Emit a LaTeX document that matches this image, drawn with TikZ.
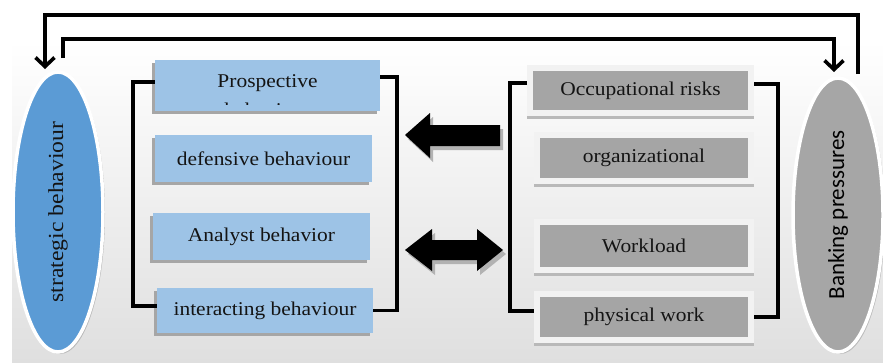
\documentclass[tikz,border=0pt]{standalone}
\usepackage{fontspec}
\usepackage{graphicx}
\setmainfont{Liberation Serif}[FakeStretch=1.1]
\newfontfamily\bpfont{Carlito}
\usetikzlibrary{shapes.geometric,arrows.meta,shadows}
\definecolor{blueE}{HTML}{5B9BD5}
\definecolor{blueB}{HTML}{9DC3E6}
\definecolor{grayE}{HTML}{A6A6A6}
\definecolor{grayB}{HTML}{A5A5A5}
\definecolor{txt}{HTML}{141414}
\newcommand{\bxfont}{\fontsize{19.5}{22}\selectfont}
\newsavebox{\bpbox}
\begin{document}
\sbox{\bpbox}{\bpfont\fontsize{23}{26}\selectfont Banking pressures}%
\begin{tikzpicture}[x=1pt,y=-1pt,
  lbox/.style={fill=blueB, inner sep=0pt, text=txt, font=\bxfont,
    drop shadow={shadow xshift=-3pt,shadow yshift=-3pt,fill=gray!70,opacity=1}},
  rbox/.style={fill=grayB, draw=white!95!black, line width=6pt, inner sep=0pt, text=txt, font=\bxfont},
  ell/.style={ellipse, draw=white, line width=3.5pt, inner sep=0pt, text=txt,
    drop shadow={shadow xshift=2pt,shadow yshift=-2pt,fill=gray!55,opacity=1}},
  conn/.style={draw=black, line width=3.6pt},
  tip/.style={-{Straight Barb[length=9pt,width=19pt]}},
  blk/.style={fill=black},
  blkshadow/.style={fill=gray!60}
]
\useasboundingbox (0,0) rectangle (883,362);
\fill[white] (0,0) rectangle (883,362);
\shade[top color=white, bottom color=gray!25] (12,40) rectangle (883,362);

% ellipses
\node[ell, fill=blueE, minimum width=90pt, minimum height=280pt, font=\fontsize{21.5}{24}\selectfont] (sb) at (58,212)
  {\rotatebox{90}{strategic behaviour}};
\node[ell, fill=grayE, minimum width=90pt, minimum height=274pt] (bp) at (838,215)
  {\rotatebox{90}{\usebox{\bpbox}}};

% left boxes
\node[lbox, minimum width=225pt, minimum height=51pt] (pros) at (267.5,85.5) {};
\node[text=txt, font=\bxfont, inner sep=0pt, anchor=base] (prosT) at (267.5,87) {Prospective};
\begin{scope}
  \clip (pros.north west) rectangle ([yshift=7pt]pros.south east);
  \node[text=txt, font=\bxfont, inner sep=0pt, anchor=base] (prosB) at (267.5,116.5) {behaviour};
\end{scope}
\node[lbox, minimum width=217pt, minimum height=47pt] (def) at (263.5,158.5) {defensive behaviour};
\node[lbox, minimum width=217pt, minimum height=47pt] (ana) at (261.5,236.5) {Analyst behavior};
\node[lbox, minimum width=216pt, minimum height=45pt] (int) at (265,310.5) {interacting behaviour};

% right boxes
\node[rbox, minimum width=221pt, minimum height=45pt] (occ) at (640.5,90.5) {Occupational risks};
\node[rbox, minimum width=214pt, minimum height=46pt] (org) at (644,158) {organizational};
\node[rbox, minimum width=214pt, minimum height=48pt] (wl) at (644,246) {Workload};
\node[rbox, minimum width=214pt, minimum height=46pt] (phy) at (644,317) {physical work};
\foreach \n in {occ,org,wl,phy}{
  \fill[gray!55] (\n.south west) rectangle ([yshift=-3pt]\n.south east);
}

% brackets
\draw[conn] ([yshift=3.5pt]pros.west) -- ++(-22,0) |- ([yshift=4.5pt]int.west);
\draw[conn] ([yshift=8.5pt]pros.east) -- ++(17,0) |- (int.east);
\draw[conn] ([yshift=7.5pt]occ.west) -- ++(-17,0) |- ([yshift=6pt]phy.west);
\draw[conn] ([yshift=6.5pt]occ.east) -- ++(24,0) |- (phy.east);

% top loop arrows
\coordinate (bpOut) at (858,74);
\coordinate (sbIn) at (45,69);
\coordinate (sbOut) at (63,58);
\coordinate (bpIn) at (834,72);
\draw[conn, tip] (bpOut) -- ++(0,-59) -| (sbIn);
\draw[conn, tip] (sbOut) -- ++(0,-19) -| (bpIn);

% block arrows
\fill[blkshadow] (408,139) -- (433,117) -- (433,129) -- (503,129) -- (503,150) -- (433,150) -- (433,162) -- cycle;
\fill[blk] (405,135) -- (430,113) -- (430,125) -- (500,125) -- (500,146) -- (430,146) -- (430,158) -- cycle;
\fill[blkshadow] (408,254) -- (435,233) -- (435,244) -- (480,244) -- (480,233) -- (506,254) -- (480,275) -- (480,264) -- (435,264) -- (435,275) -- cycle;
\fill[blk] (405,250) -- (432,229) -- (432,240) -- (477,240) -- (477,229) -- (503,250) -- (477,271) -- (477,260) -- (432,260) -- (432,271) -- cycle;
\end{tikzpicture}
\end{document}
